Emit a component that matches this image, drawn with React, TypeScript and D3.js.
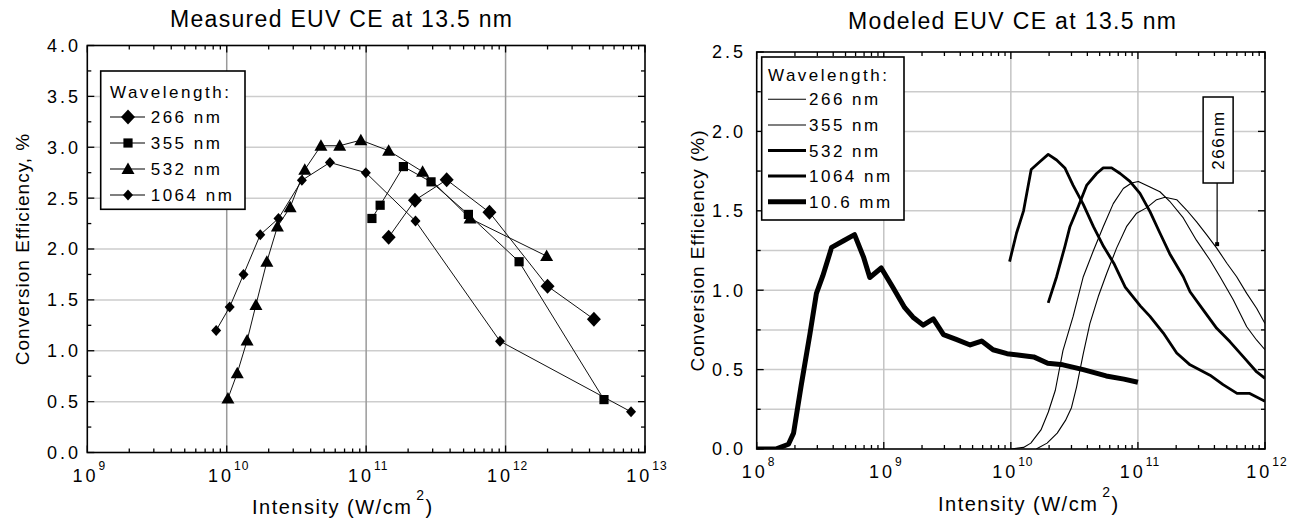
import React from 'react';
import * as d3 from 'd3';

const W = 1289;
const H = 519;
const FONT = "'Liberation Sans', Arial, Helvetica, sans-serif";
const NARROW = "'Liberation Sans Narrow', 'Arial Narrow', 'Liberation Sans', Arial, sans-serif";

// ---------------- Left panel: measured EUV CE ----------------
const measIntensity266 = [1.45e11, 2.24e11, 3.78e11, 7.66e11, 2.0e12, 4.3e12];
const measCE266 = [2.115, 2.48, 2.68, 2.36, 1.635, 1.31];
const measIntensity355 = [1.10e11, 1.26e11, 1.85e11, 2.92e11, 5.41e11, 1.25e12, 5.08e12];
const measCE355 = [2.30, 2.43, 2.81, 2.66, 2.34, 1.875, 0.52];
const measIntensity532 = [1.02e10, 1.19e10, 1.40e10, 1.62e10, 1.94e10, 2.31e10, 2.85e10, 3.63e10, 4.74e10, 6.46e10, 9.16e10, 1.45e11, 2.54e11, 5.56e11, 1.97e12];
const measCE532 = [0.53, 0.78, 1.10, 1.45, 1.875, 2.22, 2.41, 2.78, 3.015, 3.015, 3.07, 2.966, 2.76, 2.30, 1.93];
const measIntensity1064 = [8.4e9, 1.05e10, 1.32e10, 1.74e10, 2.35e10, 3.46e10, 5.5e10, 9.95e10, 2.26e11, 9.12e11, 7.94e12];
const measCE1064 = [1.20, 1.43, 1.75, 2.14, 2.30, 2.675, 2.85, 2.75, 2.275, 1.094, 0.40];

const leftLegendLabels = ['266 nm', '355 nm', '532 nm', '1064 nm'];
const leftYTickLabels = ['0.0', '0.5', '1.0', '1.5', '2.0', '2.5', '3.0', '3.5', '4.0'];
const leftXExponents = [9, 10, 11, 12, 13];

// ---------------- Right panel: modeled EUV CE (log10 of intensity, CE %) ----------------
const modelLogI106 = [8.0, 8.15, 8.25, 8.29, 8.35, 8.42, 8.47, 8.52, 8.59, 8.68, 8.77, 8.84, 8.89, 8.98, 9.07, 9.165, 9.23, 9.31, 9.39, 9.47, 9.57, 9.68, 9.77, 9.86, 9.97, 10.07, 10.18, 10.29, 10.41, 10.57, 10.75, 10.89, 11.0];
const modelCE106 = [0.0, 0.0, 0.03, 0.10, 0.40, 0.73, 0.98, 1.09, 1.27, 1.31, 1.35, 1.21, 1.08, 1.14, 1.02, 0.89, 0.83, 0.78, 0.82, 0.72, 0.69, 0.655, 0.68, 0.625, 0.60, 0.59, 0.58, 0.54, 0.53, 0.50, 0.46, 0.44, 0.42];
const modelLogI1064 = [9.99, 10.045, 10.1, 10.16, 10.23, 10.294, 10.36, 10.425, 10.49, 10.57, 10.65, 10.73, 10.81, 10.9, 11.02, 11.095, 11.2, 11.305, 11.41, 11.567, 11.67, 11.78, 11.88, 12.0];
const modelCE1064 = [1.18, 1.36, 1.50, 1.76, 1.81, 1.855, 1.82, 1.77, 1.66, 1.54, 1.40, 1.275, 1.17, 1.02, 0.90, 0.835, 0.73, 0.605, 0.53, 0.465, 0.405, 0.35, 0.35, 0.30];
const modelLogI532 = [10.294, 10.36, 10.425, 10.465, 10.53, 10.596, 10.675, 10.727, 10.793, 10.86, 10.937, 11.016, 11.095, 11.173, 11.25, 11.357, 11.41, 11.515, 11.62, 11.725, 11.83, 11.935, 12.0];
const modelCE532 = [0.92, 1.085, 1.275, 1.40, 1.525, 1.66, 1.735, 1.77, 1.77, 1.735, 1.685, 1.61, 1.495, 1.36, 1.23, 1.085, 0.99, 0.875, 0.76, 0.675, 0.58, 0.485, 0.445];
const modelLogI355 = [10.0, 10.1, 10.157, 10.237, 10.295, 10.35, 10.41, 10.49, 10.57, 10.65, 10.727, 10.806, 10.885, 10.95, 11.003, 11.095, 11.173, 11.25, 11.357, 11.46, 11.567, 11.646, 11.75, 11.856, 11.935, 12.0];
const modelCE355 = [0.0, 0.01, 0.037, 0.12, 0.233, 0.37, 0.62, 0.835, 1.085, 1.25, 1.40, 1.545, 1.64, 1.675, 1.685, 1.65, 1.62, 1.56, 1.455, 1.315, 1.19, 1.085, 0.94, 0.77, 0.685, 0.625];
const modelLogI266 = [10.2, 10.285, 10.365, 10.43, 10.477, 10.517, 10.57, 10.622, 10.688, 10.754, 10.832, 10.91, 10.99, 11.07, 11.147, 11.213, 11.305, 11.383, 11.462, 11.54, 11.62, 11.7, 11.777, 11.856, 11.935, 12.0];
const modelCE266 = [0.0, 0.037, 0.10, 0.18, 0.26, 0.39, 0.60, 0.79, 0.96, 1.105, 1.265, 1.40, 1.485, 1.52, 1.57, 1.585, 1.57, 1.505, 1.43, 1.35, 1.265, 1.17, 1.085, 0.98, 0.885, 0.79];

const rightLegendLabels = ['266 nm', '355 nm', '532 nm', '1064 nm', '10.6 mm'];
const rightYTickLabels = ['0.0', '0.5', '1.0', '1.5', '2.0', '2.5'];
const rightXExponents = [8, 9, 10, 11, 12];
const annotationLabel = '266nm';
const annotationPoint = [4.2e11, 1.29];

type Pt = [number, number];
const zip = (xs: number[], ys: number[]): Pt[] => xs.map((x, i) => [x, ys[i]] as Pt);

const MARKERS: Record<string, string> = {
  bigDiamond: 'M0,-7.5L7,0L0,7.5L-7,0Z',
  square: 'M-4.6,-4.6h9.2v9.2h-9.2Z',
  triangle: 'M0,-6.5L6.5,5L-6.5,5Z',
  smallDiamond: 'M0,-5.5L5,0L0,5.5L-5,0Z',
};

const isDecade = (t: number) => Math.abs(Math.log10(t) - Math.round(Math.log10(t))) < 1e-9;

function Frame({ x, y, yStep, yMajor }: { x: d3.ScaleLogarithmic<number, number>; y: d3.ScaleLinear<number, number>; yStep: number; yMajor: number }) {
  const [x0, x1] = x.range();
  const [yb, yt] = y.range();
  const xt = x.ticks();
  const [ylo, yhi] = y.domain();
  const yt2 = d3.range(ylo, yhi + 1e-9, yStep);
  return (
    <g>
      <rect x={x0} y={yt} width={x1 - x0} height={yb - yt} fill="none" stroke="#000" strokeWidth={1.6} />
      {xt.map((t, i) => {
        const len = isDecade(t) ? 7 : 4;
        const px = x(t);
        return (
          <g key={'xt' + i}>
            <line x1={px} x2={px} y1={yb} y2={yb - len} stroke="#000" strokeWidth={1.3} />
            <line x1={px} x2={px} y1={yt} y2={yt + len} stroke="#000" strokeWidth={1.3} />
          </g>
        );
      })}
      {yt2.map((v, i) => {
        const maj = Math.abs(v / yMajor - Math.round(v / yMajor)) < 1e-6;
        const len = maj ? 7 : 4;
        const py = y(v);
        return (
          <g key={'yt' + i}>
            <line x1={x0} x2={x0 + len} y1={py} y2={py} stroke="#000" strokeWidth={1.3} />
            <line x1={x1} x2={x1 - len} y1={py} y2={py} stroke="#000" strokeWidth={1.3} />
          </g>
        );
      })}
    </g>
  );
}

function LeftPanel() {
  const x = d3.scaleLog().domain([1e9, 1e13]).range([87.3, 645]);
  const y = d3.scaleLinear().domain([0, 4]).range([452.5, 45.5]);
  const [x0, x1] = x.range();
  const [yb, yt] = y.range();
  const line = d3.line<Pt>().x((d) => x(d[0])).y((d) => y(d[1]));
  const series = [
    { pts: zip(measIntensity266, measCE266), marker: 'bigDiamond' },
    { pts: zip(measIntensity355, measCE355), marker: 'square' },
    { pts: zip(measIntensity532, measCE532), marker: 'triangle' },
    { pts: zip(measIntensity1064, measCE1064), marker: 'smallDiamond' },
  ];
  const decades = leftXExponents.map((e) => Math.pow(10, e));
  const yVals = leftYTickLabels.map((s) => +s);
  const legendY = [117, 143, 169, 195];
  return (
    <g>
      {yVals.filter((v) => v > 0 && v < 4).map((v, i) => (
        <line key={'gh' + i} x1={x0} x2={x1} y1={y(v)} y2={y(v)} stroke="#cdcdcd" strokeWidth={1.5} />
      ))}
      {decades.slice(1, -1).map((d, i) => (
        <line key={'gv' + i} x1={x(d)} x2={x(d)} y1={yt} y2={yb} stroke="#9a9a9a" strokeWidth={1.5} />
      ))}
      {series.map((s, i) => (
        <path key={'l' + i} d={line(s.pts) || ''} fill="none" stroke="#111" strokeWidth={1} />
      ))}
      {series.map((s, i) =>
        s.pts.map((p, j) => (
          <path key={'m' + i + '-' + j} d={MARKERS[s.marker]} transform={`translate(${x(p[0])},${y(p[1])})`} fill="#000" />
        ))
      )}
      <Frame x={x} y={y} yStep={0.25} yMajor={0.5} />
      {leftYTickLabels.map((s, i) => (
        <text key={'yl' + i} x={81} y={y(yVals[i])} dy="0.36em" textAnchor="end" fontSize={18} letterSpacing={3}>{s}</text>
      ))}
      {leftXExponents.map((e, i) => (
        <text key={'xl' + i} x={x(decades[i]) + 2} y={481.5} textAnchor="middle" fontSize={18} letterSpacing={3}>
          10<tspan fontSize={12} dy={-12} letterSpacing={1}>{e}</tspan>
        </text>
      ))}
      <text x={252} y={514} fontSize={20} letterSpacing={1.5}>
        Intensity (W/cm<tspan dx={4} dy={-14} fontSize={14}>2</tspan><tspan dy={14}>)</tspan>
      </text>
      <text transform={`translate(29,${(yb + yt) / 2}) rotate(-90)`} textAnchor="middle" fontSize={19} letterSpacing={1}>
        Conversion Efficiency, %
      </text>
      <text x={170} y={27} fontSize={23} fontFamily={NARROW} textLength={342} lengthAdjust="spacing">Measured EUV CE at 13.5 nm</text>
      <rect x={100.7} y={71} width={144.3} height={138.3} fill="#fff" stroke="#000" strokeWidth={1.6} />
      <text x={110} y={98} fontSize={17} letterSpacing={2.5}>Wavelength:</text>
      {leftLegendLabels.map((lab, i) => (
        <g key={'lg' + i}>
          <line x1={110} x2={145} y1={legendY[i]} y2={legendY[i]} stroke="#000" strokeWidth={1.2} />
          <path d={MARKERS[series[i].marker]} transform={`translate(128,${legendY[i]})`} fill="#000" />
          <text x={150.7} y={legendY[i] + 6} fontSize={17} letterSpacing={2.5}>{lab}</text>
        </g>
      ))}
    </g>
  );
}

function RightPanel() {
  const x = d3.scaleLog().domain([1e8, 1e12]).range([756.7, 1265]);
  const y = d3.scaleLinear().domain([0, 2.5]).range([449, 52]);
  const [x0, x1] = x.range();
  const [yb, yt] = y.range();
  const line = d3.line<Pt>().x((d) => x(d[0])).y((d) => y(d[1])).curve(d3.curveLinear);
  const toI = (arr: number[]) => arr.map((e) => Math.pow(10, e));
  const series = [
    { pts: zip(toI(modelLogI266), modelCE266), w: 1.1 },
    { pts: zip(toI(modelLogI355), modelCE355), w: 1.1 },
    { pts: zip(toI(modelLogI532), modelCE532), w: 2.8 },
    { pts: zip(toI(modelLogI1064), modelCE1064), w: 2.8 },
    { pts: zip(toI(modelLogI106), modelCE106), w: 5 },
  ];
  const decades = rightXExponents.map((e) => Math.pow(10, e));
  const yVals = rightYTickLabels.map((s) => +s);
  const gridY = d3.range(0.25, 2.5, 0.25);
  const legendY = [99.3, 125, 150.5, 176, 201.7];
  const ax = x(annotationPoint[0]);
  const ay = y(annotationPoint[1]);
  return (
    <g>
      <defs>
        <clipPath id="rclip">
          <rect x={x0} y={yt} width={x1 - x0} height={yb - yt} />
        </clipPath>
      </defs>
      {gridY.map((v, i) => (
        <line key={'gh' + i} x1={x0} x2={x1} y1={y(v)} y2={y(v)} stroke="#cbcbcb" strokeWidth={1.5} />
      ))}
      {decades.slice(1, -1).map((d, i) => (
        <line key={'gv' + i} x1={x(d)} x2={x(d)} y1={yt} y2={yb} stroke="#c4c4c4" strokeWidth={1.5} />
      ))}
      <g clipPath="url(#rclip)">
        {series.map((s, i) => (
          <path key={'c' + i} d={line(s.pts) || ''} fill="none" stroke="#000" strokeWidth={s.w} strokeLinejoin="round" strokeLinecap="butt" />
        ))}
      </g>
      <Frame x={x} y={y} yStep={0.25} yMajor={0.5} />
      {rightYTickLabels.map((s, i) => (
        <text key={'yl' + i} x={746} y={y(yVals[i])} dy="0.36em" textAnchor="end" fontSize={18} letterSpacing={3}>{s}</text>
      ))}
      {rightXExponents.map((e, i) => (
        <text key={'xl' + i} x={x(decades[i]) + 2} y={478} textAnchor="middle" fontSize={18} letterSpacing={3}>
          10<tspan fontSize={12} dy={-12} letterSpacing={1}>{e}</tspan>
        </text>
      ))}
      <text x={938} y={511} fontSize={20} letterSpacing={1.5}>
        Intensity (W/cm<tspan dx={4} dy={-14} fontSize={14}>2</tspan><tspan dy={14}>)</tspan>
      </text>
      <text transform={`translate(704,${(yb + yt) / 2}) rotate(-90)`} textAnchor="middle" fontSize={19} letterSpacing={1}>
        Conversion Efficiency (%)
      </text>
      <text x={848} y={29} fontSize={23} fontFamily={NARROW} textLength={328} lengthAdjust="spacing">Modeled EUV CE at 13.5 nm</text>
      <rect x={761.7} y={57} width={142.3} height={163} fill="#fff" stroke="#000" strokeWidth={1.6} />
      <text x={768} y={81} fontSize={17} letterSpacing={2.5}>Wavelength:</text>
      {rightLegendLabels.map((lab, i) => (
        <g key={'lg' + i}>
          <line x1={768} x2={806} y1={legendY[i]} y2={legendY[i]} stroke="#000" strokeWidth={series[i].w} />
          <text x={809} y={legendY[i] + 6} fontSize={17} letterSpacing={2.5}>{lab}</text>
        </g>
      ))}
      <line x1={ax} x2={ax} y1={183} y2={ay} stroke="#000" strokeWidth={1.2} />
      <rect x={ax - 2} y={ay - 2} width={4} height={4} fill="#000" />
      <rect x={ax - 14} y={97} width={30} height={86} fill="#fff" stroke="#000" strokeWidth={1.5} />
      <text transform={`translate(${ax + 7},140) rotate(-90)`} textAnchor="middle" fontSize={17} letterSpacing={1.5}>{annotationLabel}</text>
    </g>
  );
}

export default function App() {
  return (
    <svg width={W} height={H} viewBox={`0 0 ${W} ${H}`} style={{ position: 'absolute', left: 0, top: 0, background: '#fff' }} fontFamily={FONT} fill="#000">
      <rect x={0} y={0} width={W} height={H} fill="#fff" />
      <LeftPanel />
      <RightPanel />
    </svg>
  );
}
